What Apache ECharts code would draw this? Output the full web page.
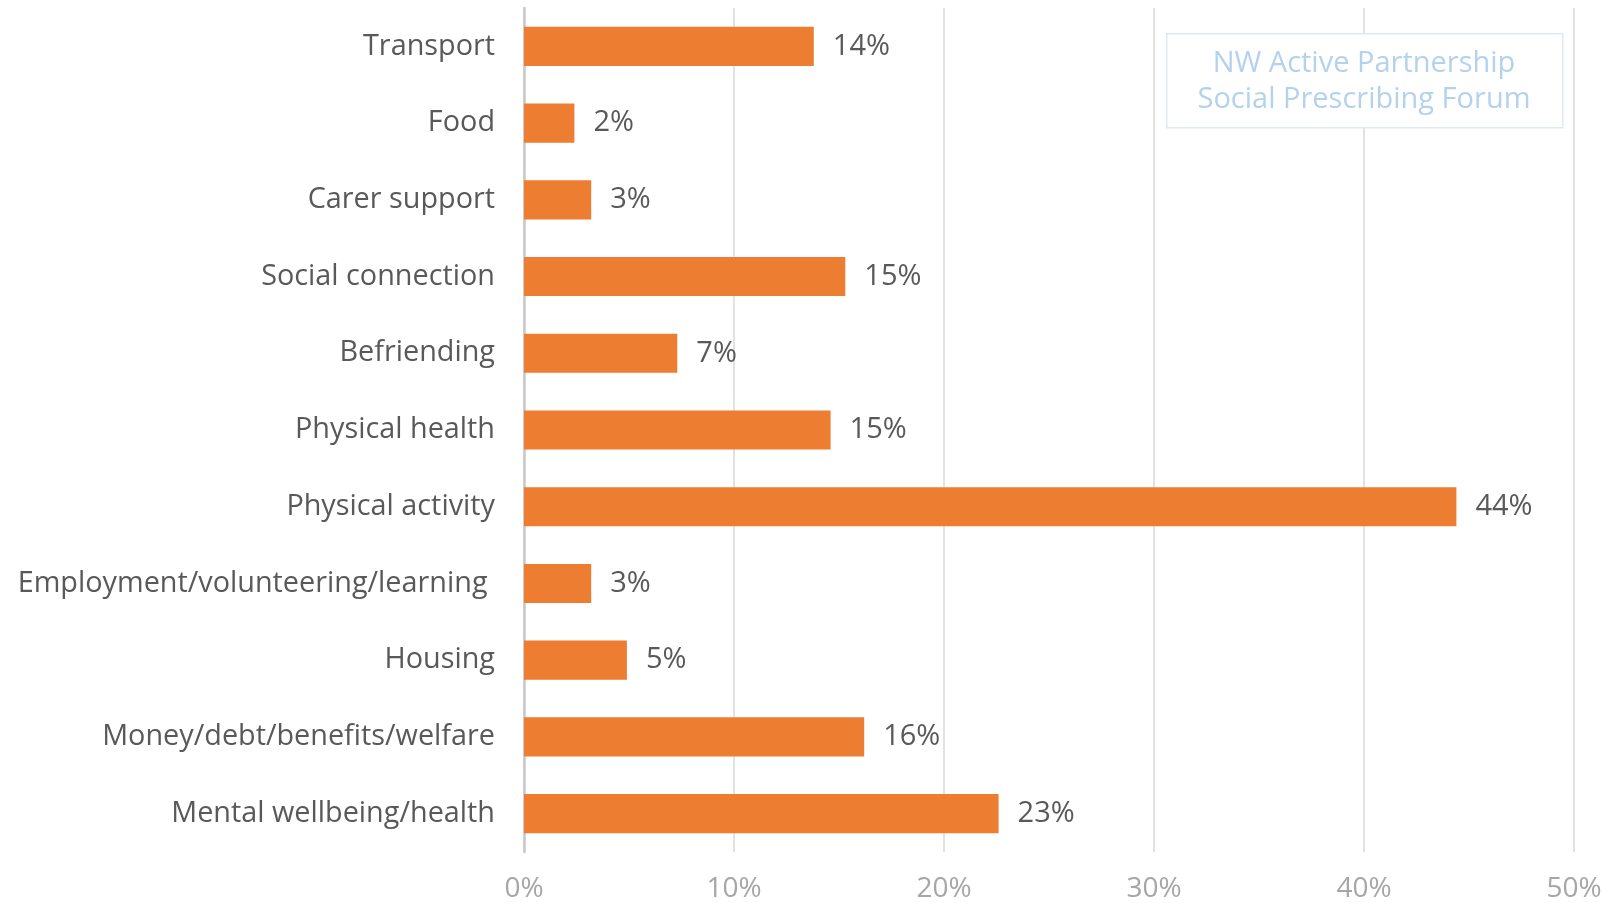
<!DOCTYPE html>
<html>
<head>
<meta charset="utf-8">
<title>Social prescribing referrals</title>
<script src="https://cdn.jsdelivr.net/npm/echarts@6/dist/echarts.min.js"></script>
<style>
  html, body { margin: 0; padding: 0; background: #fff; }
  #chart { width: 1609px; height: 903px; }
</style>
</head>
<body>
<div id="chart"></div>
<script>
// categories, bottom to top (echarts draws category axis from the bottom)
const categories = [
  'Mental wellbeing/health',
  'Money/debt/benefits/welfare',
  'Housing',
  'Employment/volunteering/learning ',
  'Physical activity',
  'Physical health',
  'Befriending',
  'Social connection',
  'Carer support',
  'Food',
  'Transport'
];
// share of referrals, percent
const values = [22.6, 16.2, 4.9, 3.2, 44.4, 14.6, 7.3, 15.3, 3.2, 2.4, 13.8];
const xTicks = [0, 10, 20, 30, 40, 50];
const watermark = ['NW Active Partnership', 'Social Prescribing Forum'];

const font = '"Open Sans", "Liberation Sans", sans-serif';
const chart = echarts.init(document.getElementById('chart'));

chart.setOption({
  animation: false,
  textStyle: { fontFamily: font },
  grid: { left: 524, right: 35, top: 8, bottom: 51, containLabel: false },
  xAxis: {
    type: 'value',
    min: xTicks[0],
    max: xTicks[xTicks.length - 1],
    interval: 10,
    axisLine: { show: false },
    axisTick: { show: false },
    splitLine: { lineStyle: { color: '#d9d9d9', width: 1.5 } },
    axisLabel: {
      formatter: v => v + '%',
      color: '#a6a6a6',
      fontSize: 28,
      margin: 23,
      fontFamily: font
    }
  },
  yAxis: {
    type: 'category',
    data: categories,
    axisLine: { show: true, lineStyle: { color: '#c8c8c8', width: 2.5 } },
    axisTick: { show: false },
    axisLabel: {
      color: '#595959',
      fontSize: 28.8,
      margin: 29,
      fontFamily: font
    }
  },
  series: [{
    type: 'bar',
    data: values,
    barCategoryGap: '49%',
    itemStyle: { color: '#ed7d31' },
    label: {
      show: true,
      position: 'right',
      distance: 19,
      color: '#595959',
      fontSize: 29,
      fontFamily: font,
      formatter: p => Math.round(p.value) + '%'
    }
  }],
  graphic: [{
    type: 'rect',
    left: 1166,
    top: 33,
    z: 100,
    shape: { width: 396, height: 94 },
    style: { fill: '#fff', stroke: '#ddeaf6', lineWidth: 1.5 }
  }, {
    type: 'text',
    position: [1364, 46],
    z: 101,
    style: {
      text: watermark.join('\n'),
      align: 'center',
      fill: '#b4d2ee',
      font: '29px ' + font,
      lineHeight: 36
    }
  }]
});
</script>
</body>
</html>
